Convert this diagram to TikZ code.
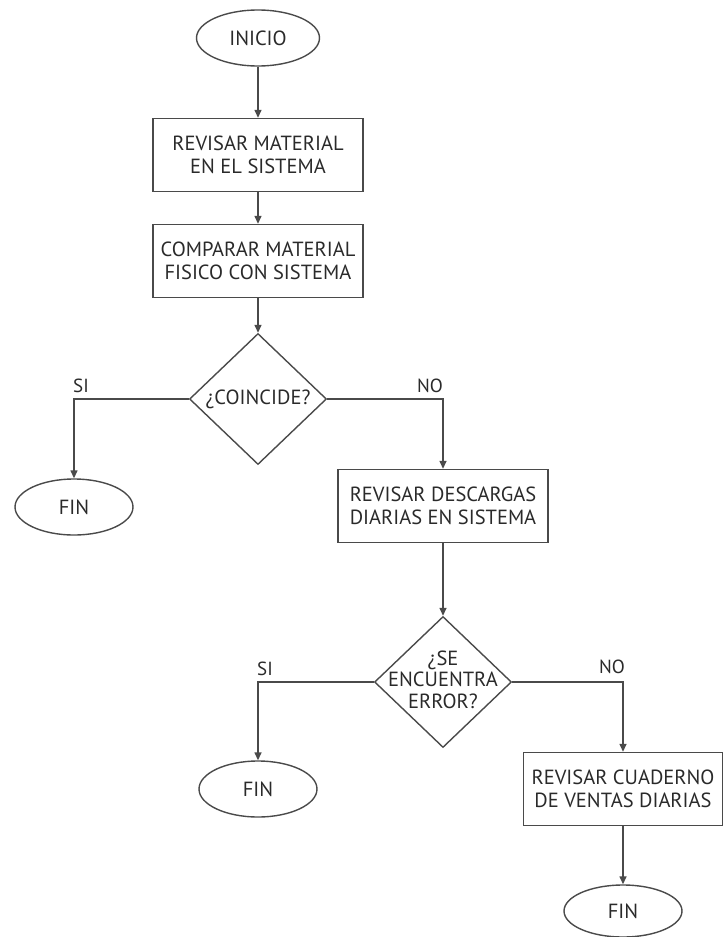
\documentclass[tikz,border=0pt]{standalone}
\usepackage{fontspec}
\setmainfont{PT Sans}
\usetikzlibrary{shapes.geometric,arrows.meta}
\definecolor{ink}{HTML}{4A4A4A}
\definecolor{txt}{HTML}{2A2A2A}
\begin{document}
\begin{tikzpicture}[x=1pt,y=-1pt,
  every node/.style={text=txt,font=\fontsize{20.5}{23.5}\selectfont},
  terminal/.style={draw=ink,line width=1.4pt,ellipse,minimum width=118pt,minimum height=56pt,inner sep=0pt},
  process/.style={draw=ink,line width=1.4pt,rectangle,minimum width=210pt,minimum height=73pt,inner sep=0pt,align=center},
  decision/.style={draw=ink,line width=1.4pt,diamond,minimum width=137pt,minimum height=131pt,inner sep=0pt},
  flow/.style={draw=ink,line width=1.4pt,-{Triangle[length=8pt,width=7pt]}},
  branch/.style={font=\fontsize{19}{21}\selectfont}
]
\useasboundingbox (0,0) rectangle (723,937);

% main column
\node[terminal,minimum width=123pt] (inicio) at (258,38) {INICIO};
\node[process] (b1) at (258,155) {REVISAR MATERIAL\\EN EL SISTEMA};
\node[process] (b2) at (258,261) {COMPARAR MATERIAL\\FISICO CON SISTEMA};
\node[decision] (d1) at (258,399) {\makebox[0pt]{¿COINCIDE?}};

% first decision branches
\node[terminal] (fin1) at (74,507) {FIN};
\node[process] (b3) at (443,506) {REVISAR DESCARGAS\\DIARIAS EN SISTEMA};
\node[decision] (d2) at (443,682) {\makebox[0pt]{\begin{tabular}{@{}c@{}}¿SE\\[-2pt]ENCUENTRA\\[-2pt]ERROR?\end{tabular}}};

% second decision branches
\node[terminal] (fin2) at (258,789) {FIN};
\node[process,minimum width=199pt] (b4) at (623,789) {REVISAR CUADERNO\\DE VENTAS DIARIAS};
\node[terminal,minimum height=52pt] (fin3) at (623,911) {FIN};

\draw[flow] (inicio) -- (b1);
\draw[flow] (b1) -- (b2);
\draw[flow] (b2) -- (d1);
\draw[flow] (d1.west) -| (fin1.north);
\draw[flow] (d1.east) -| (b3.north);
\draw[flow] (b3) -- (d2);
\draw[flow] (d2.west) -| (fin2.north);
\draw[flow] (d2.east) -| (b4.north);
\draw[flow] (b4) -- (fin3);

% branch labels
\node[branch] (si1) at (81,386) {SI};
\node[branch] (no1) at (430,386) {NO};
\node[branch] (si2) at (265,669) {SI};
\node[branch] (no2) at (612,667) {NO};
\end{tikzpicture}
\end{document}
